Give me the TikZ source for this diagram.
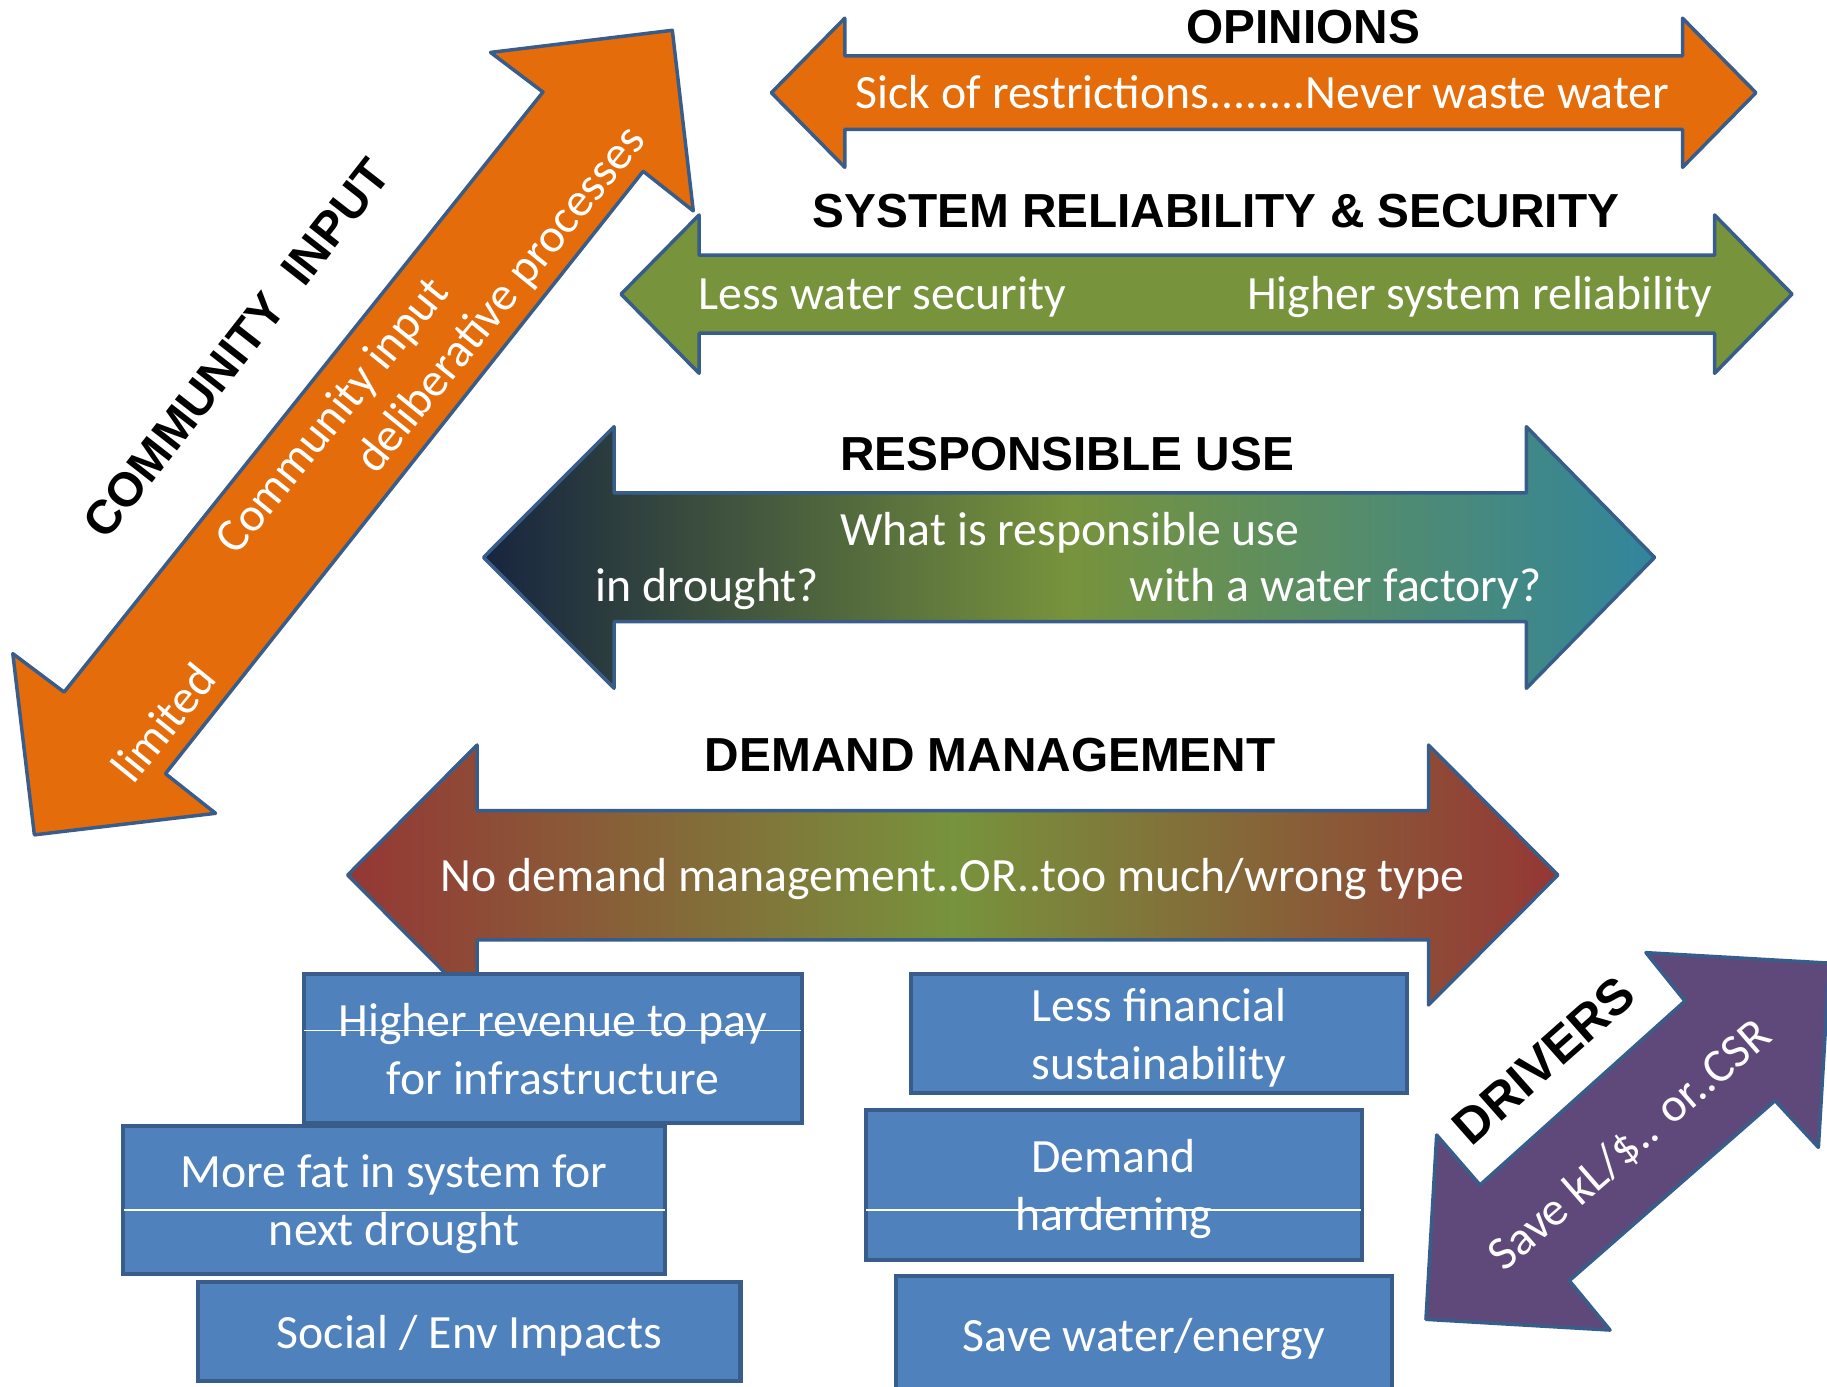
\documentclass[tikz,border=0pt]{standalone}
\usepackage{fontspec}
\setmainfont{Carlito}
\newfontfamily\headfont{Liberation Sans}
\definecolor{edgeblue}{HTML}{385D8A}
\definecolor{orangefill}{HTML}{E46C0A}
\definecolor{greenfill}{HTML}{77933C}
\definecolor{navyend}{HTML}{17253F}
\definecolor{tealend}{HTML}{31859C}
\definecolor{redend}{HTML}{953735}
\definecolor{purplefill}{HTML}{5F497A}
\definecolor{boxblue}{HTML}{4F81BD}

\begin{document}
\begin{tikzpicture}[x=1pt,y=-1pt,
    outline/.style={draw=edgeblue, line width=3pt, line join=round},
    heading/.style={font=\headfont\bfseries\fontsize{41}{41}\selectfont, inner sep=0pt},
    bodytext/.style={font=\fontsize{41}{49.5}\selectfont, text=white, inner sep=0pt},
    infobox/.style={draw=edgeblue, fill=boxblue, line width=3.5pt, inner sep=0pt, align=center,
        text depth=0pt, font=\fontsize{41}{49.5}\selectfont, text=white}]
            \useasboundingbox (0,0) rectangle (1568,1190);
            % community input arrow
            \draw[outline, fill=orangefill] (577,26) -- (595,181) -- (552,147) -- (142,664) -- (185,698)
                -- (29.5,716.5) -- (11,561) -- (55,594) -- (466,79) -- (421,45) -- cycle;
            % opinions arrow
            \draw[outline, fill=orangefill] (662,79.6) -- (725,15.6) -- (725,48) -- (1444,48) -- (1444,15.6)
                -- (1507,79.6) -- (1444,143.6) -- (1444,111) -- (725,111) -- (725,143.6) -- cycle;
            % system arrow
            \draw[outline, fill=greenfill] (533,252.4) -- (600,184.5) -- (600,219) -- (1471.5,219) -- (1471.5,184.5)
                -- (1538,252.4) -- (1471.5,320.4) -- (1471.5,286) -- (600,286) -- (600,320.4) -- cycle;
            % responsible use arrow
            \draw[outline, left color=navyend, right color=tealend, middle color=greenfill]
                (415,478.4) -- (527,366.2) -- (527,423) -- (1310,423) -- (1310,366.2) -- (1420,478.4)
                -- (1310,590.7) -- (1310,533.6) -- (527,533.6) -- (527,590.7) -- cycle;
            % demand management arrow
            \draw[outline, left color=redend, right color=redend, middle color=greenfill]
                (298.4,751) -- (409.4,639.4) -- (409.4,695.7) -- (1226,695.7) -- (1226,639.4) -- (1337,751)
                -- (1226,862.5) -- (1226,806.7) -- (409.4,806.7) -- (409.4,862.5) -- cycle;
            % the blue boxes
            \foreach \name/\cx/\cy/\w/\h/\txt in {
                b1/474.5/900/427/128/{Higher revenue to pay\\for infrastructure},
                b4/994.7/887.2/425.6/102.3/{Less financial\\sustainability},
                b2/338.2/1029.9/464.7/127.3/{More fat in system for\\next drought},
                b5/955.7/1017/425.7/128.6/{Demand\\hardening},
                b3/402.8/1143/465.4/85/{Social / Env Impacts},
                b6/981.8/1146/426.3/102/{Save water/energy}}
            \node[infobox, minimum width=\w pt, minimum height=\h pt] (\name) at (\cx,\cy) {\txt};
            \draw[white, line width=1pt, shorten <=2pt, shorten >=2pt] (b1.west |- 0,884.6) -- (b1.east |- 0,884.6);
            \draw[white, line width=1pt, shorten <=2pt, shorten >=2pt] (b2.west |- 0,1038.5) -- (b2.east |- 0,1038.5);
            \draw[white, line width=1pt, shorten <=2pt, shorten >=2pt] (b5.west |- 0,1038.5) -- (b5.east |- 0,1038.5);
            % drivers arrow
            \draw[outline, fill=purplefill] (1570,826.6) -- (1560.6,984.7) -- (1523.4,944.6) -- (1346.8,1099.1)
                -- (1381.8,1141.5) -- (1223.8,1132.3) -- (1233,974.1) -- (1270.2,1017) -- (1446.1,859.1)
                -- (1412.6,817.6) -- cycle;
            % headings
            \node[heading, anchor=base] (opinions) at (1118.5,37.2) {OPINIONS};
            \node[heading, anchor=base] (system) at (1043.5,195.4) {SYSTEM RELIABILITY \& SECURITY};
            \node[heading, anchor=base] (responsible) at (915.7,403.4) {RESPONSIBLE USE};
            \node[heading, anchor=base] (demand) at (849.8,662.3) {DEMAND MANAGEMENT};
            \node[heading, rotate=52] (community) at (203,299) {COMMUNITY\ \ INPUT};
            \node[heading, rotate=41.5, font=\headfont\bfseries\fontsize{43}{43}\selectfont] (drivers) at (1325,910) {DRIVERS};
            % white texts on the arrows
            \node[bodytext, anchor=base] (sick) at (1083.6,93) {Sick of restrictions........Never waste water};
            \node[bodytext, anchor=base] (less) at (757,266) {Less water security};
            \node[bodytext, anchor=base] (higher) at (1270,266) {Higher system reliability};
            \node[bodytext, anchor=base] (what) at (918.2,467.8) {What is responsible use};
            \node[bodytext, anchor=base] (drought) at (607,516.4) {in drought?};
            \node[bodytext, anchor=base] (factory) at (1146.3,516.4) {with a water factory?};
            \node[bodytext, anchor=base] (nodemand) at (817.7,765.3) {No demand management..OR..too much/wrong type};
            \node[bodytext, rotate=51] (cinput) at (286.5,357.8) {Community input};
            \node[bodytext, rotate=51] (delib) at (430.5,257.8) {deliberative processes};
            \node[bodytext, rotate=51] (limited) at (140,620) {limited};
            \node[bodytext, rotate=41] (save) at (1399,983) {Save kL/\$.. or..CSR};
\end{tikzpicture}
\end{document}
